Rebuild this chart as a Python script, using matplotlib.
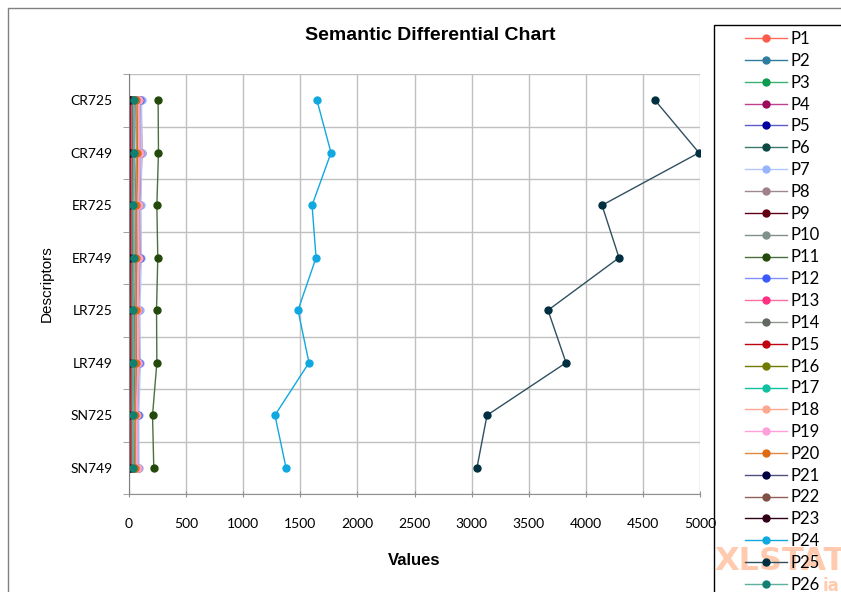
import matplotlib
matplotlib.use("Agg")
import matplotlib.pyplot as plt
from matplotlib.patches import Rectangle

descriptors = ["CR725", "CR749", "ER725", "ER749", "LR725", "LR749", "SN725", "SN749"]
x_ticks = [0, 500, 1000, 1500, 2000, 2500, 3000, 3500, 4000, 4500, 5000]

series_names = ["P%d" % i for i in range(1, 27)]
series_values = [
    [105, 115, 95, 100, 85, 90, 70, 75],        # P1
    [60, 65, 55, 58, 50, 52, 45, 48],           # P2
    [30, 32, 28, 30, 26, 27, 24, 25],           # P3
    [15, 16, 14, 15, 13, 14, 12, 12],           # P4
    [20, 22, 18, 20, 17, 18, 15, 16],           # P5
    [25, 27, 24, 25, 22, 23, 20, 21],           # P6
    [110, 112, 105, 108, 95, 100, 85, 88],      # P7
    [40, 42, 38, 40, 35, 37, 32, 33],           # P8
    [8, 9, 8, 8, 7, 7, 6, 6],                   # P9
    [70, 72, 65, 68, 60, 62, 55, 58],           # P10
    [255, 258, 244, 252, 241, 244, 206, 217],   # P11
    [95, 98, 90, 92, 82, 85, 75, 78],           # P12
    [18, 20, 17, 18, 16, 17, 15, 15],           # P13
    [45, 47, 42, 44, 40, 41, 36, 38],           # P14
    [12, 13, 11, 12, 10, 11, 9, 10],            # P15
    [75, 78, 70, 72, 65, 68, 60, 62],           # P16
    [35, 36, 33, 34, 31, 32, 29, 30],           # P17
    [90, 95, 85, 88, 80, 83, 72, 75],           # P18
    [80, 85, 78, 80, 72, 75, 65, 68],           # P19
    [65, 68, 60, 62, 58, 60, 52, 55],           # P20
    [5, 5, 4, 5, 4, 4, 3, 3],                   # P21
    [28, 30, 26, 27, 24, 25, 22, 23],           # P22
    [3, 3, 3, 3, 2, 2, 2, 2],                   # P23
    [1646, 1769, 1603, 1638, 1480, 1576, 1278, 1375],  # P24
    [4606, 4991, 4142, 4291, 3669, 3827, 3135, 3047],  # P25
    [40, 42, 38, 40, 36, 37, 33, 34],           # P26
]

# (marker colour, line colour)
colors = [
    ("#ff5a4a", "#ff6a5a"), ("#2e7ca0", "#2e7ca0"), ("#0a9a50", "#3cb371"),
    ("#9c0a5c", "#c04090"), ("#0000a0", "#5a5ac8"), ("#0a4a40", "#3a7a70"),
    ("#98b4ff", "#b0c8ff"), ("#a08088", "#a08890"), ("#600010", "#600018"),
    ("#80908a", "#80908a"), ("#234a0a", "#4a7040"), ("#3a5aff", "#8090ff"),
    ("#ff3080", "#ff70a0"), ("#606860", "#909890"), ("#c00010", "#c00010"),
    ("#707a00", "#707a00"), ("#10c0a0", "#10c0a0"), ("#ffa890", "#ffa890"),
    ("#ffa0d8", "#ffa0d8"), ("#e06a10", "#e08840"), ("#000040", "#505080"),
    ("#805048", "#906058"), ("#300018", "#300018"), ("#10a8e0", "#10a8e0"),
    ("#003040", "#305060"), ("#108070", "#60b0a0"),
]

fig = plt.figure(figsize=(8.41, 5.92), dpi=100)
ax = fig.add_axes([129 / 841, 1 - 494 / 592, 571 / 841, 420 / 592])

ypos = [i + 0.5 for i in range(len(descriptors))]
for name, vals, (mc, lc) in zip(series_names, series_values, colors):
    ax.plot(vals, ypos, "-", color=lc, lw=1.0, marker="o", markersize=5,
            markerfacecolor=mc, markeredgecolor=mc, label=name)

ax.set_xlim(0, 5000)
ax.set_ylim(len(descriptors), 0)
ax.set_xticks(x_ticks)
ax.set_xticklabels([str(t) for t in x_ticks], fontfamily="Lato", fontsize=10)
ax.set_yticks(ypos)
ax.set_yticklabels(descriptors, fontfamily="Lato", fontsize=10)
ax.set_yticks(range(len(descriptors) + 1), minor=True)
ax.tick_params(axis="y", which="major", length=0, pad=12)
ax.tick_params(axis="y", which="minor", length=4, color="#909090")
ax.tick_params(axis="x", which="major", length=4, direction="inout",
               color="#909090", pad=15)
ax.grid(True, axis="x", color="#c0c0c0", lw=1)
ax.grid(True, axis="y", which="minor", color="#c0c0c0", lw=1)
ax.set_axisbelow(True)
for s in ["top", "right"]:
    ax.spines[s].set_visible(False)
ax.spines["left"].set_color("#808080")
ax.spines["bottom"].set_color("#909090")

ax.set_xlabel("Values", fontfamily="Liberation Sans", fontsize=12,
              fontweight="bold", labelpad=17)
ax.set_ylabel("Descriptors", fontfamily="Liberation Sans", fontsize=11,
              labelpad=12)
fig.text(430 / 841, 1 - 36 / 592, "Semantic Differential Chart",
         ha="center", va="center", fontfamily="Liberation Sans",
         fontsize=14, fontweight="bold")

# outer chart frame
fig.patches.append(Rectangle((8 / 841, -0.1), 1.1, 1 - 8 / 592 + 0.1,
                             transform=fig.transFigure, fill=False,
                             edgecolor="#808080", lw=1))

# watermark (behind the legend)
fig.text(714 / 841, 1 - 562 / 592, "XLSTAT", ha="left", va="center",
         fontfamily="DejaVu Sans", fontsize=23, fontweight="bold",
         color="#ffa878", alpha=0.6, zorder=0)
fig.text(823 / 841, 1 - 586 / 592, "ia", ha="left", va="center",
         fontfamily="DejaVu Sans", fontsize=12, fontweight="bold",
         color="#ffa878", alpha=0.6, zorder=0)

# legend frame, runs off the right and bottom of the picture
fig.patches.append(Rectangle((714 / 841, -0.1), 0.3, 1 - 25 / 592 + 0.1,
                             transform=fig.transFigure, fill=False,
                             edgecolor="#000000", lw=1))

leg = fig.legend(loc="upper left", bbox_to_anchor=(745 / 841, 1 - 31 / 592),
                 frameon=False, prop={"family": "Lato", "size": 12},
                 handlelength=2.5, handletextpad=0.25, labelspacing=0.35,
                 borderpad=0, borderaxespad=0)

fig.savefig("out.png", dpi=100)
